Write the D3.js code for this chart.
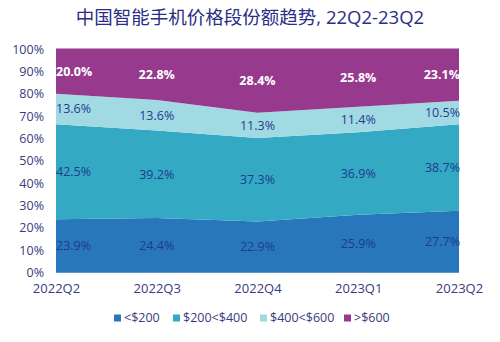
<!DOCTYPE html>
<html>
<head>
<meta charset="utf-8">
<script src="https://cdn.jsdelivr.net/npm/d3@7"></script>
<style>
  body { margin: 0; background: #fff; }
  text { font-family: "Open Sans", "Noto Sans CJK SC", sans-serif; }
</style>
</head>
<body>
<div id="chart"></div>
<script>
// data
var quarters = ["2022Q2", "2022Q3", "2022Q4", "2023Q1", "2023Q2"];
var seriesNames = ["<$200", "$200<$400", "$400<$600", ">$600"];
var under200 = [23.9, 24.4, 22.9, 25.9, 27.7];
var from200to400 = [42.5, 39.2, 37.3, 36.9, 38.7];
var from400to600 = [13.6, 13.6, 11.3, 11.4, 10.5];
var over600 = [20.0, 22.8, 28.4, 25.8, 23.1];
var yTicks = [0, 10, 20, 30, 40, 50, 60, 70, 80, 90, 100];

var colors = ["#2877bd", "#33a9c4", "#a2dae3", "#973a8d"];
var labelColors = ["#1f3b8f", "#1f3b8f", "#1f3b8f", "#ffffff"];

var width = 500, height = 342;
var margin = {top: 49, right: 41, bottom: 70, left: 56};

var svg = d3.select("#chart")
  .append("svg")
    .attr("width", width)
    .attr("height", height);

// build rows for the stack
var seriesValues = [under200, from200to400, from400to600, over600];
var rows = quarters.map(function(q, i) {
  var r = {q: q};
  seriesNames.forEach(function(s, j) { r[s] = seriesValues[j][i]; });
  return r;
});
var stacked = d3.stack().keys(seriesNames)(rows);

var x = d3.scalePoint()
  .domain(quarters)
  .range([margin.left, width - margin.right]);
var y = d3.scaleLinear()
  .domain([0, 100])
  .range([height - margin.bottom + 0.7, margin.top]);

// title
svg.append("text")
  .attr("x", 250)
  .attr("y", 24)
  .attr("text-anchor", "middle")
  .attr("fill", "#2b2e85")
  .style("font-size", "18.5px")
  .text("中国智能手机价格段份额趋势, 22Q2-23Q2");

// areas
var area = d3.area()
  .x(function(d) { return x(d.data.q); })
  .y0(function(d) { return y(d[0]); })
  .y1(function(d, i, arr) { return y(d[1]); });

svg.selectAll(".band")
  .data(stacked)
  .enter()
  .append("path")
    .attr("class", "band")
    .attr("d", function(s, j) {
      // top band fills up to 100%
      if (j === stacked.length - 1) {
        return d3.area()
          .x(function(d) { return x(d.data.q); })
          .y0(function(d) { return y(d[0]); })
          .y1(y(100))(s);
      }
      return area(s);
    })
    .attr("fill", function(s, j) { return colors[j]; });

// faint top line
svg.append("line")
  .attr("x1", x(quarters[0]))
  .attr("x2", x(quarters[quarters.length - 1]))
  .attr("y1", y(100) - 0.5)
  .attr("y2", y(100) - 0.5)
  .attr("stroke", "#c79cc3")
  .attr("stroke-width", 1);

// y axis labels
var yAxis = svg.append("g")
  .attr("transform", "translate(" + (margin.left - 12) + ",0)")
  .call(d3.axisLeft(y).tickValues(yTicks).tickFormat(function(d) { return d + "%"; }).tickSize(0).tickPadding(0));
yAxis.select(".domain").remove();
yAxis.selectAll("text")
  .attr("fill", "#3a3a7e")
  .style("font-size", "12.5px")
  .style("font-family", "'Open Sans', sans-serif");

// x axis labels
var xAxis = svg.append("g")
  .attr("transform", "translate(0," + (height - margin.bottom) + ")")
  .call(d3.axisBottom(x).tickSize(0).tickPadding(12));
xAxis.select(".domain").remove();
xAxis.selectAll("text")
  .attr("fill", "#3a3a7e")
  .style("font-size", "13px")
  .style("font-family", "'Open Sans', sans-serif");

// data labels
stacked.forEach(function(s, j) {
  svg.selectAll(".lab" + j)
    .data(s)
    .enter()
    .append("text")
      .attr("x", function(d, i) {
        if (i === s.length - 1) return x(d.data.q) + 1;
        return x(d.data.q);
      })
      .attr("y", function(d) {
        var top = j === stacked.length - 1 ? 100 : d[1];
        return y((d[0] + top) / 2);
      })
      .attr("dy", "0.35em")
      .attr("text-anchor", function(d, i) {
        if (i === 0) return "start";
        if (i === s.length - 1) return "end";
        return "middle";
      })
      .attr("fill", labelColors[j])
      .style("font-size", "12.5px")
      .style("font-weight", j === stacked.length - 1 ? "bold" : "normal")
      .text(function(d) { return seriesValues[j][quarters.indexOf(d.data.q)].toFixed(1) + "%"; });
});

// legend
var legendX = [114, 173, 260, 344];
var legend = svg.selectAll(".legend")
  .data(seriesNames)
  .enter()
  .append("g")
    .attr("transform", function(d, i) { return "translate(" + legendX[i] + ",318)"; });
legend.append("rect")
  .attr("x", 0)
  .attr("y", -3.5)
  .attr("width", 7)
  .attr("height", 7)
  .attr("fill", function(d, i) { return colors[i]; });
legend.append("text")
  .attr("x", 10)
  .attr("y", 0)
  .attr("dy", "0.35em")
  .attr("fill", "#3a3a7e")
  .style("font-size", "12.5px")
  .text(function(d) { return d; });
</script>
</body>
</html>
